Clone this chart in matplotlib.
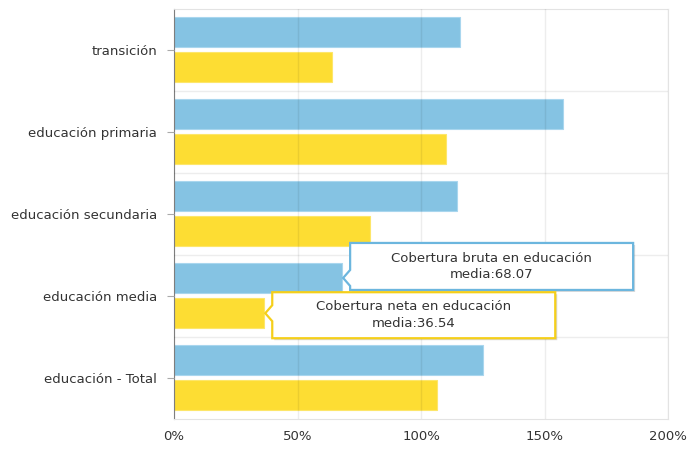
import matplotlib
matplotlib.use("Agg")
import matplotlib.pyplot as plt
from matplotlib.patches import Polygon
from matplotlib.transforms import Affine2D

categories = ["transición", "educación primaria", "educación secundaria",
              "educación media", "educación - Total"]
bruta = [115.9, 157.3, 114.4, 68.07, 125.2]
neta = [64.1, 110.0, 79.5, 36.54, 106.6]
x_ticks = [0, 50, 100, 150, 200]
x_labels = ["0%", "50%", "100%", "150%", "200%"]

blue = "#85c3e3"
yellow = "#fddd33"
text_color = "#333333"

plt.rcParams["font.family"] = "DejaVu Sans"
plt.rcParams["font.size"] = 9.5

fig = plt.figure(figsize=(6.88, 4.5), dpi=100)
ax = fig.add_axes([174 / 688, 1 - 419 / 450, 494 / 688, 410 / 450])

pos = list(range(len(categories)))
ax.barh([p - 0.22 for p in pos], bruta, height=0.36, color=blue,
        edgecolor="#a9d6ee", linewidth=0.8, zorder=2)
ax.barh([p + 0.21 for p in pos], neta, height=0.36, color=yellow,
        edgecolor="#fde66a", linewidth=0.8, zorder=2)

ax.set_xlim(0, 200)
ax.set_ylim(len(categories) - 0.5, -0.5)
ax.set_xticks(x_ticks)
ax.set_xticklabels(x_labels, color=text_color)
ax.set_yticks(pos)
ax.set_yticklabels(categories, color=text_color)
ax.set_yticks([p + 0.5 for p in pos[:-1]], minor=True)

ax.grid(axis="x", color="black", alpha=0.07, linewidth=1, zorder=3)
ax.grid(axis="y", which="minor", color="black", alpha=0.07, linewidth=1, zorder=3)
ax.tick_params(axis="x", length=0, pad=8)
ax.tick_params(axis="y", which="major", length=5, color="#aaaaaa", pad=7)
ax.tick_params(axis="y", which="minor", length=0)
for s in ["top", "right", "bottom"]:
    ax.spines[s].set_color("#e3e3e3")
ax.spines["left"].set_color("#888888")
ax.set_axisbelow(False)


def tooltip(value, yc, text, color, top, bot):
    px, py = ax.transData.transform((value, yc))
    tr = Affine2D().translate(px, py)
    left, right = 8, 8 + 283
    pts = [(1, 0), (left, 8), (left, top), (right, top), (right, bot),
           (left, bot), (left, -8)]
    shadow = Polygon(pts, closed=True, facecolor="#000000", alpha=0.15,
                     edgecolor="none",
                     transform=Affine2D().translate(px + 2, py - 2), zorder=5)
    box = Polygon(pts, closed=True, facecolor="white", edgecolor=color,
                  linewidth=1.6, transform=tr, zorder=6)
    fig.add_artist(shadow)
    fig.add_artist(box)
    fig.text((left + right) / 2, (top + bot) / 2, text, transform=tr,
             ha="center", va="center", color=text_color, zorder=7,
             linespacing=1.35)


tooltip(bruta[3], 3 - 0.22, "Cobertura bruta en educación\nmedia:%.2f" % bruta[3],
        "#6cb6de", 35, -12)
tooltip(neta[3], 3 + 0.21, "Cobertura neta en educación\nmedia:%.2f" % neta[3],
        "#f5cf1a", 21, -25)

fig.savefig("out.png", dpi=100)
